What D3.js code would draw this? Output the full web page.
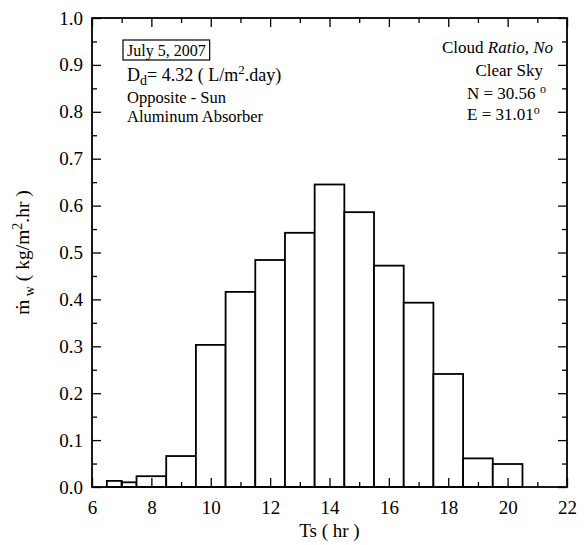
<!DOCTYPE html>
<html>
<head>
<meta charset="utf-8">
<script src="https://cdn.jsdelivr.net/npm/d3@7"></script>
<style>
  body { margin: 0; background: #fff; }
  text { font-family: "Liberation Serif", "Times New Roman", serif; fill: #000; }
</style>
</head>
<body>
<script>
// hourly bins (hr) and water productivity (kg/m2.hr)
var binStart = [6.5, 7.0, 7.5, 8.5, 9.5, 10.5, 11.5, 12.5, 13.5, 14.5, 15.5, 16.5, 17.5, 18.5, 19.5];
var binEnd   = [7.0, 7.5, 8.5, 9.5, 10.5, 11.5, 12.5, 13.5, 14.5, 15.5, 16.5, 17.5, 18.5, 19.5, 20.5];
var rate     = [0.013, 0.010, 0.023, 0.066, 0.303, 0.416, 0.484, 0.542, 0.645, 0.586, 0.472, 0.393, 0.241, 0.061, 0.049];

var xTicks = [6, 8, 10, 12, 14, 16, 18, 20, 22];
var xMinor = [7, 9, 11, 13, 15, 17, 19, 21];
var yTicks = [0, 0.1, 0.2, 0.3, 0.4, 0.5, 0.6, 0.7, 0.8, 0.9, 1.0];
var yMinor = [0.05, 0.15, 0.25, 0.35, 0.45, 0.55, 0.65, 0.75, 0.85, 0.95];

var w = 585, h = 545;
var margin = { left: 92, right: 567, top: 18, bottom: 487 };

var svg = d3.select("body").append("svg")
  .attr("width", w)
  .attr("height", h);

var x = d3.scaleLinear().domain([6, 22]).range([margin.left, margin.right]);
var y = d3.scaleLinear().domain([0, 1]).range([margin.bottom, margin.top]);

// bars
svg.selectAll("rect.bar")
  .data(rate)
  .enter()
  .append("rect")
  .attr("class", "bar")
  .attr("x", function(d, i) { return x(binStart[i]); })
  .attr("y", function(d) { return y(d); })
  .attr("width", function(d, i) { return x(binEnd[i]) - x(binStart[i]); })
  .attr("height", function(d) { return y(0) - y(d); })
  .attr("fill", "#fff")
  .attr("stroke", "#000")
  .attr("stroke-width", 1.8);

// axes, ticks pointing inward on all four sides
function styleAxis(g) {
  g.select(".domain").remove();
  g.selectAll("line").attr("stroke", "#000").attr("stroke-width", 1.3);
  g.selectAll("text").attr("font-size", "19px")
    .style("font-family", "'Liberation Serif', 'Times New Roman', serif");
}

svg.append("g")
  .attr("transform", "translate(0," + margin.bottom + ")")
  .call(d3.axisBottom(x).tickValues(xTicks).tickSize(-9).tickFormat(d3.format("d")))
  .call(styleAxis)
  .selectAll("text").attr("dy", "0.71em").attr("y", 14);

svg.append("g")
  .attr("transform", "translate(0," + margin.bottom + ")")
  .call(d3.axisBottom(x).tickValues(xMinor).tickSize(-5).tickFormat(""))
  .call(styleAxis);

svg.append("g")
  .attr("transform", "translate(0," + margin.top + ")")
  .call(d3.axisTop(x).tickValues(xTicks).tickSize(-9).tickFormat(""))
  .call(styleAxis);

svg.append("g")
  .attr("transform", "translate(0," + margin.top + ")")
  .call(d3.axisTop(x).tickValues(xMinor).tickSize(-5).tickFormat(""))
  .call(styleAxis);

svg.append("g")
  .attr("transform", "translate(" + margin.left + ",0)")
  .call(d3.axisLeft(y).tickValues(yTicks).tickSize(-9).tickFormat(d3.format(".1f")))
  .call(styleAxis)
  .selectAll("text").attr("x", -9);

svg.append("g")
  .attr("transform", "translate(" + margin.left + ",0)")
  .call(d3.axisLeft(y).tickValues(yMinor).tickSize(-5).tickFormat(""))
  .call(styleAxis);

svg.append("g")
  .attr("transform", "translate(" + margin.right + ",0)")
  .call(d3.axisRight(y).tickValues(yTicks).tickSize(-9).tickFormat(""))
  .call(styleAxis);

svg.append("g")
  .attr("transform", "translate(" + margin.right + ",0)")
  .call(d3.axisRight(y).tickValues(yMinor).tickSize(-5).tickFormat(""))
  .call(styleAxis);

// frame
svg.append("rect")
  .attr("x", margin.left)
  .attr("y", margin.top)
  .attr("width", margin.right - margin.left)
  .attr("height", margin.bottom - margin.top)
  .attr("fill", "none")
  .attr("stroke", "#000")
  .attr("stroke-width", 1.8);

// axis titles
svg.append("text")
  .attr("x", (margin.left + margin.right) / 2)
  .attr("y", 537)
  .attr("text-anchor", "middle")
  .attr("font-size", "19px")
  .text("Ts ( hr )");

var ylab = svg.append("text")
  .attr("transform", "translate(29," + ((margin.top + margin.bottom) / 2) + ") rotate(-90)")
  .attr("text-anchor", "middle")
  .attr("font-size", "19.5px");
ylab.append("tspan").text("ṁ");
ylab.append("tspan").attr("dy", 5).attr("font-size", "14px").text(" w");
ylab.append("tspan").attr("dy", -5).text("  ( kg/m");
ylab.append("tspan").attr("dy", -7).attr("font-size", "14px").text("2");
ylab.append("tspan").attr("dy", 7).text(".hr )");

// annotations, left block
var date = svg.append("text")
  .attr("x", 127).attr("y", 56)
  .attr("font-size", "16px")
  .text("July 5, 2007");
var dw = date.node().getComputedTextLength();

svg.append("rect")
  .attr("x", 123)
  .attr("y", 40)
  .attr("width", dw + 8)
  .attr("height", 20)
  .attr("fill", "none")
  .attr("stroke", "#000")
  .attr("stroke-width", 1.2);

var dd = svg.append("text")
  .attr("x", 127).attr("y", 81)
  .attr("font-size", "18px");
dd.append("tspan").text("D");
dd.append("tspan").attr("dy", 4).attr("font-size", "14px").text("d");
dd.append("tspan").attr("dy", -4).text("= 4.32 (  L/m");
dd.append("tspan").attr("dy", -7).attr("font-size", "13px").text("2");
dd.append("tspan").attr("dy", 7).text(".day)");

svg.append("text")
  .attr("x", 127).attr("y", 103)
  .attr("font-size", "16.5px")
  .text("Opposite - Sun");

svg.append("text")
  .attr("x", 127).attr("y", 122)
  .attr("font-size", "16.5px")
  .text("Aluminum Absorber");

// annotations, right block
var cr = svg.append("text")
  .attr("x", 553).attr("y", 53)
  .attr("text-anchor", "end")
  .attr("font-size", "17px");
cr.append("tspan").text("Cloud ");
cr.append("tspan").attr("font-style", "italic").text("Ratio");
cr.append("tspan").text(", ");
cr.append("tspan").attr("font-style", "italic").text("No");

svg.append("text")
  .attr("x", 543).attr("y", 76)
  .attr("text-anchor", "end")
  .attr("font-size", "17px")
  .text("Clear Sky");

var nn = svg.append("text")
  .attr("x", 467).attr("y", 99)
  .attr("font-size", "17px");
nn.append("tspan").text("N  = 30.56 ");
nn.append("tspan").attr("dy", -6).attr("font-size", "12px").text("o");

var ee = svg.append("text")
  .attr("x", 467).attr("y", 120)
  .attr("font-size", "17px");
ee.append("tspan").text("E   = 31.01");
ee.append("tspan").attr("dy", -6).attr("font-size", "12px").text("o");
</script>
</body>
</html>
